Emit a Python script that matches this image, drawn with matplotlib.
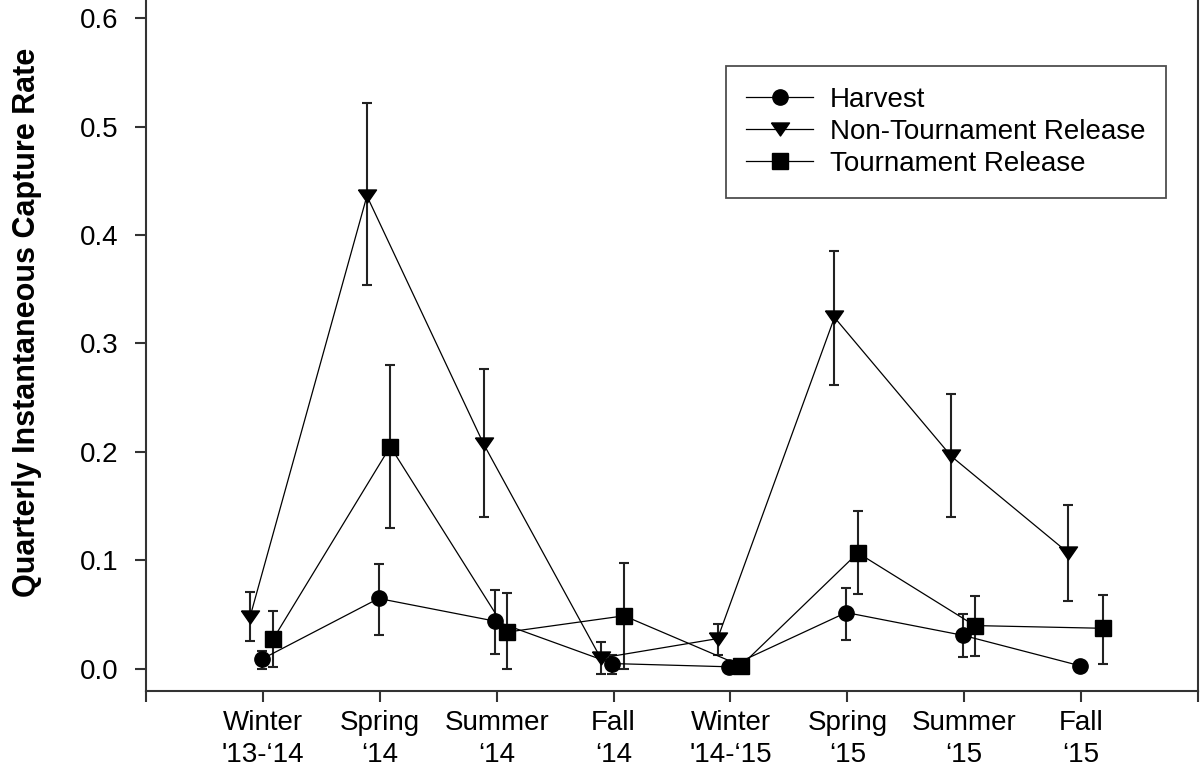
import matplotlib
matplotlib.use("Agg")
import matplotlib.pyplot as plt
import numpy as np

plt.rcParams['font.family'] = ['Liberation Sans', 'DejaVu Sans']

# quarters shown along the x axis
quarters = ["Winter\n'13-\u201814", "Spring\n\u201814", "Summer\n\u201814", "Fall\n\u201814",
            "Winter\n'14-\u201815", "Spring\n\u201815", "Summer\n\u201815", "Fall\n\u201815"]

# capture rate estimates with lower / upper error limits
harvest = [0.009, 0.065, 0.044, 0.005, 0.002, 0.052, 0.031, 0.003]
harvest_lo = [0.000, 0.031, 0.0135, -0.005, 0.002, 0.027, 0.011, 0.003]
harvest_hi = [0.017, 0.097, 0.073, 0.013, 0.002, 0.075, 0.051, 0.003]

nontourn = [0.048, 0.436, 0.207, 0.010, 0.028, 0.324, 0.196, 0.107]
nontourn_lo = [0.026, 0.354, 0.140, -0.005, 0.013, 0.262, 0.1405, 0.0627]
nontourn_hi = [0.071, 0.522, 0.2765, 0.025, 0.041, 0.3856, 0.2534, 0.151]

tourn = [0.028, 0.205, 0.034, 0.049, 0.003, 0.107, 0.040, 0.0375]
tourn_lo = [0.002, 0.130, 0.000, 0.000, 0.000, 0.069, 0.012, 0.005]
tourn_hi = [0.053, 0.280, 0.0698, 0.098, 0.006, 0.146, 0.067, 0.068]

# horizontal dodge so the series don't sit on top of each other
DODGE_H, DODGE_NT, DODGE_T = -0.01, -0.11, 0.09
tourn_extra = [0, 0, 0, 0, 0, 0, 0, 0.1]

# wide, flat down-pointing triangle
tri_down = [(-1, 0.72), (1, 0.72), (0, -0.72), (-1, 0.72)]

fig = plt.figure(figsize=(12, 7.75), dpi=100)
ax = fig.add_axes([146 / 1200, 1 - 691 / 775, 1052 / 1200, 691 / 775])

pos = np.arange(1, len(quarters) + 1)

series = [
    ("Harvest", pos + DODGE_H, harvest, harvest_lo, harvest_hi, 'o', 11),
    ("Non-Tournament Release", pos + DODGE_NT, nontourn, nontourn_lo, nontourn_hi, tri_down, 13),
    ("Tournament Release", pos + DODGE_T + np.array(tourn_extra), tourn, tourn_lo, tourn_hi, 's', 11),
]

for name, x, y, lo, hi, mk, ms in series:
    y = np.array(y)
    yerr = np.vstack([y - np.array(lo), np.array(hi) - y])
    ax.errorbar(x, y, yerr=yerr, fmt='none', ecolor='#222222', elinewidth=1.5,
                capsize=3.3, capthick=1.5, zorder=2)
    ax.plot(x, y, color='black', lw=0.9, marker=mk, markersize=ms,
            markerfacecolor='black', markeredgecolor='black', label=name, zorder=3)

ax.set_xlim(0, 9)
ax.set_ylim(-0.0203, 0.6166)
ax.set_xticks(np.arange(0, 10))
ax.set_xticklabels([''] + quarters + [''], linespacing=1.3)
ax.set_yticks(np.arange(0, 0.61, 0.1))
ax.set_yticklabels([f"{v:.1f}" for v in np.arange(0, 0.61, 0.1)])

ax.tick_params(axis='x', direction='out', length=8, width=1.5, pad=6,
               labelsize=20, color='#333333')
ax.tick_params(axis='y', direction='out', length=8, width=1.5, pad=12,
               labelsize=20, color='#333333')

for side in ['left', 'bottom', 'right']:
    ax.spines[side].set_linewidth(1.5)
    ax.spines[side].set_color('#333333')
ax.spines['top'].set_visible(False)

ax.set_ylabel("Quarterly Instantaneous Capture Rate", fontsize=22, fontweight='bold')
ax.yaxis.set_label_coords(-0.099, 0.534)

leg = ax.legend(loc='upper right', bbox_to_anchor=(0.9696, 0.9045), borderaxespad=0,
                fontsize=20, frameon=True, fancybox=False, edgecolor='#222222',
                handlelength=2.4, handletextpad=0.6, labelspacing=0.22,
                borderpad=0.75, markerscale=1.0)
leg.get_frame().set_linewidth(1.3)

fig.savefig("out.png", dpi=100)
